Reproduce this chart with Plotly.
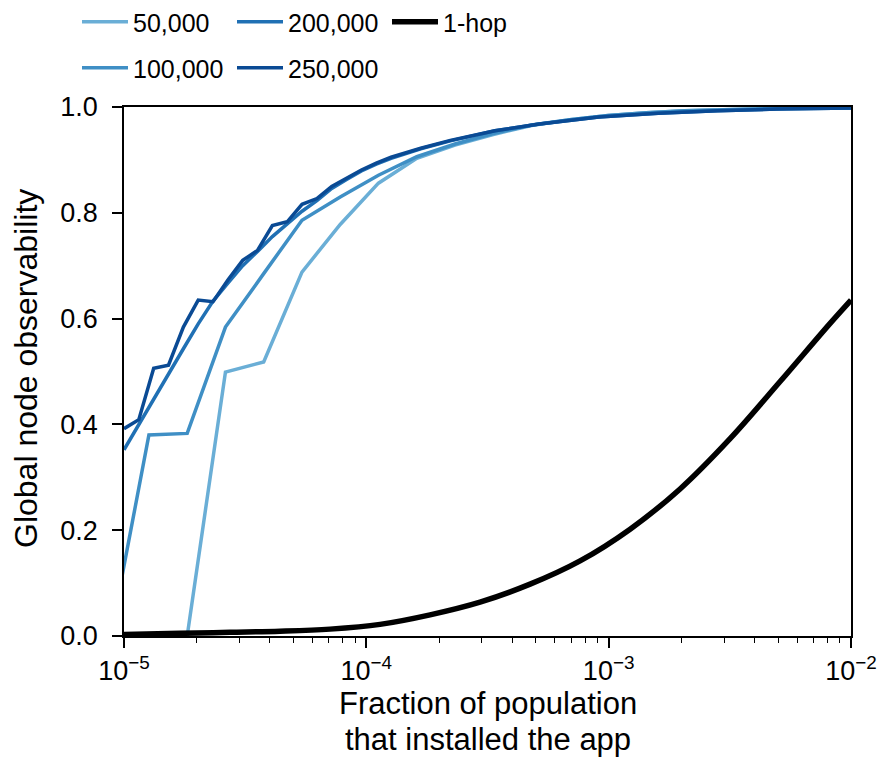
import plotly.graph_objects as go

# ---------------- data ----------------
# fine sampling (200,000 and 250,000 networks)
x_fine = [1.000e-5, 1.151e-5, 1.326e-5, 1.526e-5, 1.758e-5, 2.024e-5, 2.330e-5,
          2.683e-5, 3.089e-5, 3.556e-5, 4.095e-5, 4.715e-5, 5.429e-5, 6.251e-5,
          7.197e-5, 8.286e-5, 9.541e-5, 1.099e-4, 1.265e-4, 1.677e-4, 2.222e-4,
          3.393e-4, 5.179e-4, 9.103e-4, 1.600e-3, 2.812e-3, 4.942e-3, 1.0e-2]
obs_250k = [0.392, 0.409, 0.506, 0.512, 0.584, 0.635, 0.632, 0.673, 0.710, 0.729,
            0.776, 0.783, 0.816, 0.827, 0.850, 0.866, 0.881, 0.894, 0.905, 0.922,
            0.937, 0.955, 0.968, 0.981, 0.988, 0.993, 0.996, 0.998]
obs_200k = [0.352, 0.400, 0.449, 0.497, 0.543, 0.590, 0.633, 0.667, 0.700, 0.727,
            0.755, 0.779, 0.803, 0.823, 0.846, 0.863, 0.879, 0.892, 0.903, 0.921,
            0.936, 0.955, 0.968, 0.981, 0.988, 0.993, 0.996, 0.998]

# coarse sampling (50,000 and 100,000 networks)
x_coarse = [8.81e-6, 1.267e-5, 1.823e-5, 2.622e-5, 3.771e-5, 5.425e-5, 7.803e-5,
            1.122e-4, 1.615e-4, 2.322e-4, 3.340e-4, 4.805e-4, 6.911e-4, 9.941e-4,
            1.430e-3, 2.057e-3, 2.958e-3, 4.255e-3, 6.121e-3, 8.804e-3, 1.0e-2]
obs_100k = [0.0, 0.380, 0.383, 0.584, 0.685, 0.786, 0.830, 0.871, 0.906, 0.930,
            0.950, 0.966, 0.976, 0.984, 0.989, 0.993, 0.995, 0.997, 0.998, 0.998, 0.998]
obs_50k = [None, None, 0.0, 0.499, 0.518, 0.688, 0.778, 0.856, 0.903, 0.928,
           0.948, 0.965, 0.976, 0.984, 0.989, 0.993, 0.995, 0.997, 0.998, 0.998, 0.998]

# 1-hop curve
x_hop = [1.0e-5, 1.702e-5, 2.738e-5, 4.404e-5, 7.085e-5, 1.139e-4, 1.832e-4,
         2.946e-4, 4.739e-4, 7.621e-4, 1.226e-3, 1.971e-3, 3.170e-3, 5.099e-3,
         8.2e-3, 1.0e-2]
obs_hop = [0.003, 0.005, 0.007, 0.009, 0.013, 0.022, 0.040, 0.064, 0.098, 0.142,
           0.202, 0.278, 0.373, 0.481, 0.591, 0.635]

names = ["50,000", "100,000", "200,000", "250,000", "1-hop"]
colors = ["#6aaed6", "#3f8fc5", "#2070b4", "#0a4a94", "#000000"]

x_tickvals = [1e-5, 1e-4, 1e-3, 1e-2]
x_ticktext = ["10<sup>\u22125</sup>", "10<sup>\u22124</sup>", "10<sup>\u22123</sup>", "10<sup>\u22122</sup>"]
x_minor_vals = [k * d for d in (1e-5, 1e-4, 1e-3) for k in range(2, 10)]
y_tickvals = [0.0, 0.2, 0.4, 0.6, 0.8, 1.0]
x_title_lines = ["Fraction of population", "that installed the app"]
y_title = "Global node observability"

# ---------------- figure ----------------
FONT = "Liberation Sans, Arial, Helvetica, sans-serif"
OFF = 8                       # page body margin added by the browser
W, H = 886 - OFF, 773 - OFF
PL, PR, PT, PB = 124, 851, 107, 636   # plot area edges in the screenshot
L, T = PL - OFF, PT - OFF
R, B = W - (PR - OFF), H - (PB - OFF)
pw, ph = PR - PL, PB - PT

fig = go.Figure()
series = [(x_coarse, obs_50k), (x_coarse, obs_100k), (x_fine, obs_200k),
          (x_fine, obs_250k), (x_hop, obs_hop)]
legend_ids = ["legend", "legend2", "legend3", "legend4", "legend5"]
for i, ((xs, ys), nm, col) in enumerate(zip(series, names, colors)):
    is_hop = nm == "1-hop"
    fig.add_trace(go.Scatter(
        x=xs, y=ys, mode="lines", name=nm,
        line=dict(color=col, width=5.5 if is_hop else 3.5,
                  shape="spline" if is_hop else "linear"),
        connectgaps=False, legend=legend_ids[i], showlegend=True,
    ))

LEG_FONT = 25
leg_common = dict(bgcolor="rgba(0,0,0,0)", font=dict(family=FONT, size=LEG_FONT, color="black"),
                  xref="container", yref="container",
                  xanchor="left", yanchor="middle", itemwidth=46, borderwidth=0)
# legend anchor points (pixels in the screenshot)
pos = {"legend": (77, 22), "legend2": (77, 68), "legend3": (232, 22),
       "legend4": (232, 68), "legend5": (387, 22)}
layout_legends = {}
for k, (lx, ly) in pos.items():
    layout_legends[k] = dict(leg_common, x=(lx - OFF) / W, y=1 - (ly - OFF) / H)


def paper(px, py):
    return (px - PL) / pw, (PB - py) / ph


TITLE_FONT = 31
annotations = []
for line, ly in zip(x_title_lines, (703, 739)):
    ax_, ay_ = paper(487.5, ly)
    annotations.append(dict(text=line, x=ax_, y=ay_, xref="paper", yref="paper",
                            xanchor="center", yanchor="middle", showarrow=False,
                            font=dict(family=FONT, size=TITLE_FONT, color="black")))
ax_, ay_ = paper(26, 369)
annotations.append(dict(text=y_title, x=ax_, y=ay_, xref="paper", yref="paper",
                        xanchor="center", yanchor="middle", showarrow=False, textangle=-90,
                        font=dict(family=FONT, size=32, color="black")))

fig.update_layout(
    width=W, height=H,
    margin=dict(l=L, r=R, t=T, b=B, autoexpand=False),
    paper_bgcolor="white", plot_bgcolor="white",
    font=dict(family=FONT, size=26, color="black"),
    annotations=annotations,
    **layout_legends,
)

fig.update_xaxes(
    type="log", range=[-5, -2], automargin=False,
    tickvals=x_tickvals, ticktext=x_ticktext,
    ticks="outside", ticklen=10, tickwidth=1.8, tickcolor="black",
    minor=dict(tickmode="array", tickvals=x_minor_vals, ticks="outside",
               ticklen=5, tickwidth=1.3, tickcolor="black", showgrid=False),
    showline=True, linecolor="black", linewidth=1.8, mirror=True,
    showgrid=False, zeroline=False,
    tickfont=dict(family=FONT, size=27),
)
fig.update_yaxes(
    range=[0, 1], tickvals=y_tickvals, tickformat=".1f", automargin=False,
    ticks="outside", ticklen=10, tickwidth=1.8, tickcolor="black",
    ticklabelstandoff=9,
    showline=True, linecolor="black", linewidth=1.8, mirror=True,
    showgrid=False, zeroline=False,
    tickfont=dict(family=FONT, size=27),
)

fig.write_html("out.html")
